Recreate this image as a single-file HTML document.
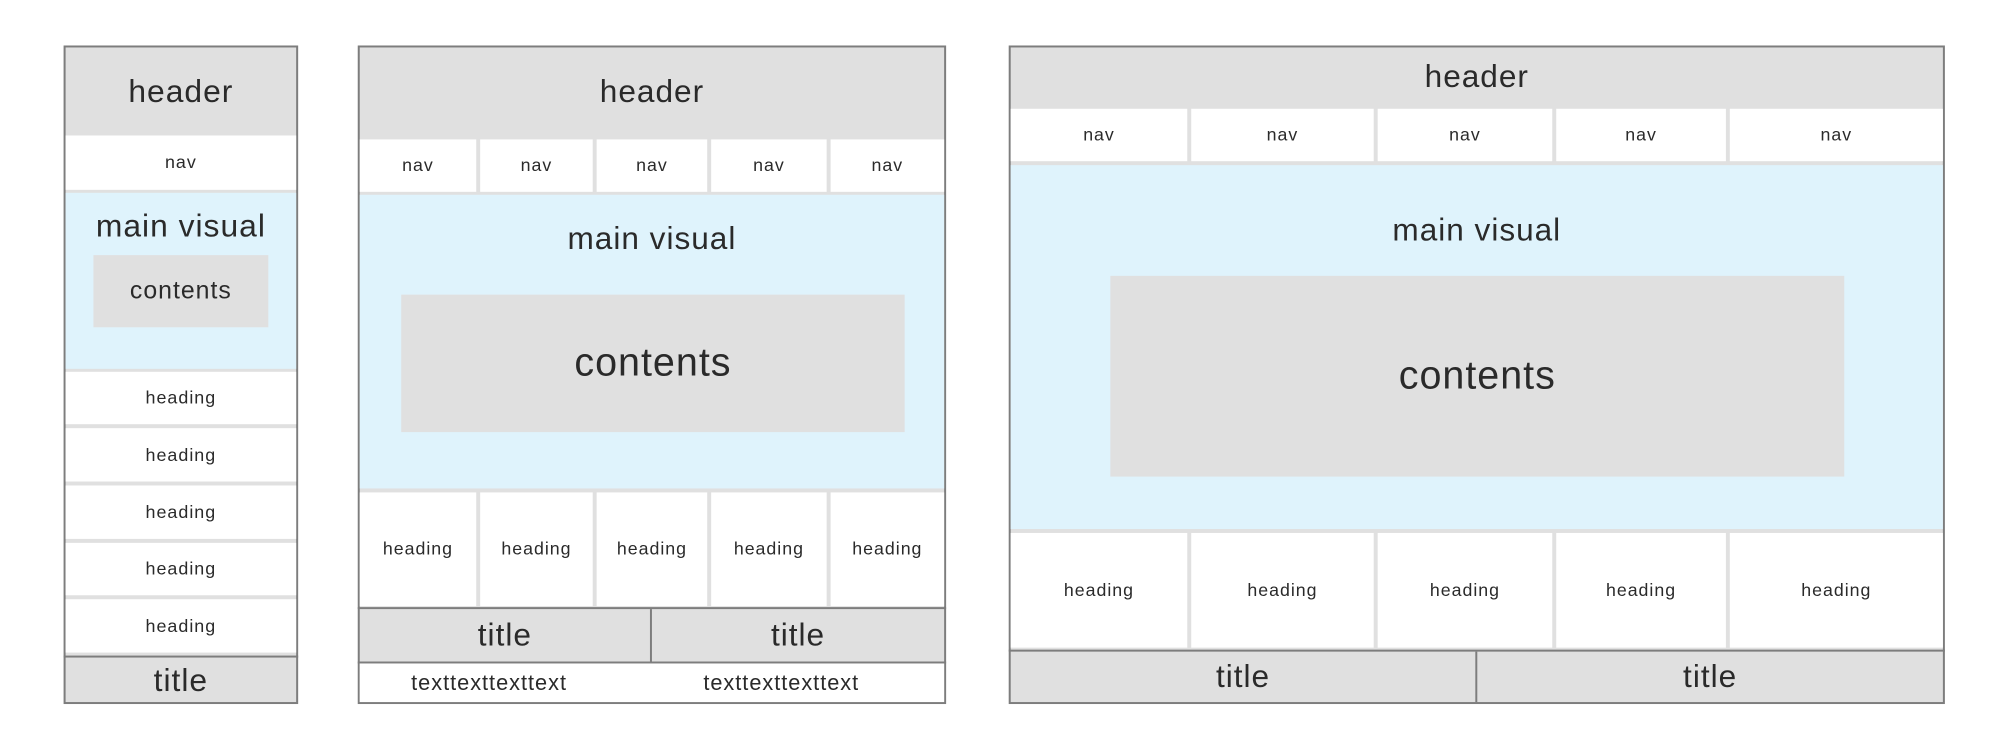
<!DOCTYPE html>
<html><head><meta charset="utf-8"><style>
body{margin:0;width:2010px;height:750px;background:#fff;position:relative;overflow:hidden;font-family:"Liberation Sans","Noto Sans CJK JP",sans-serif;color:#2a2a2a}
#c{position:absolute;left:0;top:0;width:2010px;height:750px;transform:scale(0.9938,0.9888);transform-origin:0 0}
#c div{position:absolute;box-sizing:border-box;display:flex;align-items:center;justify-content:center;letter-spacing:1px}
#c div.grp{display:block;left:0;top:0;width:2010px;height:750px}
.p{background:#e0e0e0;border:2px solid #7d7d7d}
.w{background:#fff}
.b{background:#dff3fc}
.g{background:#e0e0e0}
.l{background:#7d7d7d}
.s{font-size:18px}
.m{font-size:32px}
</style></head><body><div id="c">
<!-- panel 1 -->
<div class="p" style="left:64px;top:46px;width:236px;height:666px"></div>
<div class="m" style="left:66px;top:48px;width:232px;height:88px">header</div>
<div class="w s" style="left:66px;top:137px;width:232px;height:55px">nav</div>
<div class="b" style="left:66px;top:195px;width:232px;height:178px"></div>
<div class="m" style="left:66px;top:208px;width:232px;height:40px">main visual</div>
<div class="g" style="left:94px;top:258px;width:176px;height:73px;font-size:25px">contents</div>
<div class="w s" style="left:66px;top:376px;width:232px;height:53px">heading</div>
<div class="w s" style="left:66px;top:433px;width:232px;height:54px">heading</div>
<div class="w s" style="left:66px;top:491px;width:232px;height:54px">heading</div>
<div class="w s" style="left:66px;top:549px;width:232px;height:53px">heading</div>
<div class="w s" style="left:66px;top:606px;width:232px;height:54px">heading</div>
<div class="l" style="left:64px;top:663px;width:236px;height:2px"></div>
<div class="m" style="left:66px;top:665px;width:232px;height:46px">title</div>

<!-- panel 2 -->
<div class="grp" style="transform:translateX(-2px) scaleX(0.9933);transform-origin:362px 0">
<div class="p" style="left:362px;top:46px;width:596px;height:666px"></div>
<div class="m" style="left:364px;top:48px;width:592px;height:89px">header</div>
<div class="w s" style="left:364px;top:141px;width:118px;height:53px">nav</div>
<div class="w s" style="left:486px;top:141px;width:114px;height:53px">nav</div>
<div class="w s" style="left:604px;top:141px;width:112px;height:53px">nav</div>
<div class="w s" style="left:720px;top:141px;width:117px;height:53px">nav</div>
<div class="w s" style="left:841px;top:141px;width:115px;height:53px">nav</div>
<div class="b" style="left:364px;top:197px;width:592px;height:297px"></div>
<div class="m" style="left:364px;top:221px;width:592px;height:40px">main visual</div>
<div class="g" style="left:406px;top:298px;width:510px;height:139px;font-size:40px">contents</div>
<div class="w s" style="left:364px;top:498px;width:118px;height:115px">heading</div>
<div class="w s" style="left:486px;top:498px;width:114px;height:115px">heading</div>
<div class="w s" style="left:604px;top:498px;width:112px;height:115px">heading</div>
<div class="w s" style="left:720px;top:498px;width:117px;height:115px">heading</div>
<div class="w s" style="left:841px;top:498px;width:115px;height:115px">heading</div>
<div class="l" style="left:362px;top:614px;width:596px;height:2px"></div>
<div class="m" style="left:364px;top:616px;width:294px;height:53px">title</div>
<div class="l" style="left:658px;top:616px;width:2px;height:53px"></div>
<div class="m" style="left:660px;top:616px;width:296px;height:53px">title</div>
<div class="l" style="left:362px;top:669px;width:596px;height:2px"></div>
<div class="w" style="left:364px;top:671px;width:592px;height:39px"></div>
<div style="left:364px;top:671px;width:262px;height:39px;font-size:22px">texttexttexttext</div>
<div style="left:660px;top:671px;width:262px;height:39px;font-size:22px">texttexttexttext</div>
</div>

<!-- panel 3 -->
<div class="grp" style="transform:scaleX(0.9926);transform-origin:1957px 0">
<div class="p" style="left:1008px;top:46px;width:949px;height:666px"></div>
<div class="m" style="left:1010px;top:48px;width:945px;height:59px">header</div>
<div class="w s" style="left:1010px;top:110px;width:179px;height:53px">nav</div>
<div class="w s" style="left:1193px;top:110px;width:185px;height:53px">nav</div>
<div class="w s" style="left:1382px;top:110px;width:177px;height:53px">nav</div>
<div class="w s" style="left:1563px;top:110px;width:172px;height:53px">nav</div>
<div class="w s" style="left:1739px;top:110px;width:216px;height:53px">nav</div>
<div class="b" style="left:1010px;top:167px;width:945px;height:368px"></div>
<div class="m" style="left:1010px;top:212px;width:945px;height:40px">main visual</div>
<div class="g" style="left:1111px;top:279px;width:744px;height:203px;font-size:40px">contents</div>
<div class="w s" style="left:1010px;top:539px;width:179px;height:116px">heading</div>
<div class="w s" style="left:1193px;top:539px;width:185px;height:116px">heading</div>
<div class="w s" style="left:1382px;top:539px;width:177px;height:116px">heading</div>
<div class="w s" style="left:1563px;top:539px;width:172px;height:116px">heading</div>
<div class="w s" style="left:1739px;top:539px;width:216px;height:116px">heading</div>
<div class="l" style="left:1008px;top:657px;width:949px;height:2px"></div>
<div class="m" style="left:1010px;top:659px;width:471px;height:51px">title</div>
<div class="l" style="left:1481px;top:659px;width:2px;height:51px"></div>
<div class="m" style="left:1483px;top:659px;width:472px;height:51px">title</div>
</div>
</div></body></html>
